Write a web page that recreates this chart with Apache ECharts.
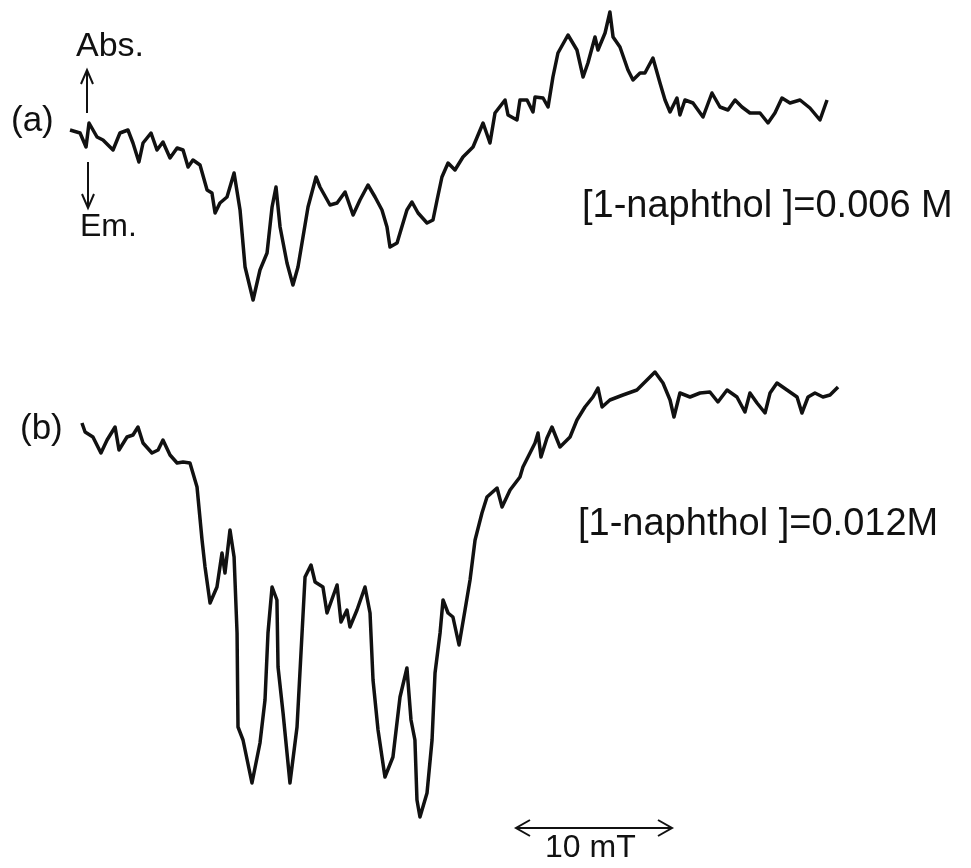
<!DOCTYPE html>
<html>
<head>
<meta charset="utf-8">
<script src="https://cdn.jsdelivr.net/npm/echarts@6/dist/echarts.min.js"></script>
<style>
  html, body { margin: 0; padding: 0; background: #fff; }
  #main { width: 971px; height: 868px; }
</style>
</head>
<body>
<div id="main"></div>
<script>
// magnetic field (mT, from start of sweep) and signal (arb. units, + = absorption)
const fieldA = [0.0, 0.64, 1.02, 1.21, 1.72, 2.10, 2.74, 3.18, 3.69, 4.01, 4.39, 4.65, 5.16, 5.54, 5.92, 6.37, 6.82, 7.20, 7.52, 7.83,
  8.28, 8.73, 9.04, 9.24, 9.55, 10.0, 10.45, 10.83, 11.15, 11.66, 12.10, 12.55, 12.87, 13.12, 13.38, 13.82, 14.20, 14.52, 15.16, 15.67,
  15.92, 16.56, 17.01, 17.52, 18.03, 18.47, 18.98, 19.43, 19.87, 20.19, 20.38, 20.83, 21.02, 21.46, 21.78, 22.17, 22.74, 23.12, 23.38, 23.69,
  24.08, 24.52, 25.03, 25.67, 26.31, 26.75, 27.07, 27.71, 27.90, 28.47, 28.66, 29.11, 29.49, 29.62, 30.13, 30.45, 30.76, 31.08, 31.72, 32.29,
  32.68, 32.99, 33.44, 33.63, 34.08, 34.39, 34.59, 35.03, 35.54, 35.86, 36.31, 36.62, 37.13, 37.58, 37.90, 38.22, 38.66, 38.85, 39.17, 39.68,
  40.32, 40.89, 41.40, 41.91, 42.36, 42.80, 43.31, 43.95, 44.46, 44.90, 45.35, 45.86, 46.50, 47.13, 47.77, 48.22];
const signalA = [0.0, -0.3, -1.7, 0.7, -0.7, -1.0, -2.0, -0.3, 0.0, -1.3, -3.2, -1.3, -0.3, -2.0, -1.2, -2.8, -1.8, -2.0, -3.7, -3.0,
  -3.5, -6.0, -6.3, -8.3, -7.3, -6.7, -4.3, -8.0, -13.7, -17.0, -14.0, -12.3, -7.7, -5.7, -9.7, -13.3, -15.5, -13.7, -7.7, -4.7,
  -5.7, -7.5, -7.3, -6.2, -8.5, -7.0, -5.5, -6.7, -8.0, -9.7, -11.7, -11.3, -10.3, -8.0, -7.2, -8.3, -9.3, -9.0, -7.0, -4.7,
  -3.3, -4.0, -2.7, -1.7, 0.7, -1.3, 1.7, 3.0, 1.5, 1.0, 3.0, 3.0, 1.8, 3.3, 3.2, 2.3, 5.3, 7.7, 9.5, 8.0,
  5.3, 6.7, 9.3, 8.0, 9.7, 11.8, 9.3, 8.3, 6.0, 5.0, 5.7, 5.7, 7.2, 4.7, 3.0, 1.8, 3.2, 1.5, 3.0, 2.7,
  1.3, 3.7, 2.3, 2.0, 3.0, 2.3, 1.7, 1.7, 0.7, 1.7, 3.2, 2.7, 3.0, 2.2, 1.0, 3.0];

const fieldB = [0.76, 0.96, 1.46, 1.97, 2.36, 2.87, 3.12, 3.63, 4.01, 4.33, 4.65, 5.22, 5.61, 5.92, 6.37, 6.82, 7.20, 7.64, 8.09, 8.41,
  8.60, 8.92, 9.36, 9.68, 9.87, 10.19, 10.45, 10.64, 10.70, 11.02, 11.59, 12.10, 12.42, 12.61, 12.87, 13.18, 13.25, 13.57, 14.01, 14.46,
  14.78, 14.97, 15.35, 15.61, 16.11, 16.37, 17.01, 17.26, 17.64, 17.83, 18.28, 18.79, 19.11, 19.30, 19.62, 20.06, 20.57, 21.02, 21.46, 21.72,
  21.97, 22.10, 22.29, 22.74, 23.06, 23.25, 23.57, 23.76, 24.08, 24.39, 24.78, 25.16, 25.48, 25.80, 26.24, 26.56, 27.20, 27.52, 28.03, 28.66,
  28.85, 29.62, 29.81, 30.00, 30.38, 30.70, 31.21, 31.85, 32.29, 32.80, 33.31, 33.63, 33.89, 34.39, 35.22, 36.11, 36.75, 37.26, 37.77, 38.22,
  38.47, 38.85, 39.49, 40.13, 40.76, 41.27, 41.85, 42.48, 42.99, 43.31, 43.76, 44.27, 44.59, 45.03, 45.67, 46.31, 46.62, 47.01, 47.45, 47.96,
  48.41, 48.92];
const signalB = [0.7, -0.2, -0.7, -2.3, -1.0, 0.3, -2.0, -0.7, -0.5, 0.3, -1.3, -2.3, -2.0, -1.0, -2.5, -3.3, -3.2, -3.3, -5.7, -11.0,
  -13.7, -17.3, -15.7, -12.3, -14.3, -10.0, -12.7, -20.3, -29.7, -31.0, -35.3, -31.3, -27.0, -20.3, -15.7, -17.0, -23.7, -28.3, -35.3, -29.7,
  -20.3, -14.7, -13.5, -15.2, -15.7, -18.3, -15.5, -19.2, -18.0, -19.7, -18.0, -15.7, -18.3, -25.0, -30.0, -34.7, -32.7, -26.7, -23.8, -29.0,
  -31.0, -37.0, -38.7, -36.3, -31.0, -24.3, -20.3, -17.0, -18.3, -18.7, -21.5, -18.0, -15.0, -11.0, -8.3, -6.7, -5.8, -7.7, -6.0, -4.7,
  -3.7, -1.3, -0.3, -2.7, -0.8, 0.3, -1.7, -0.7, 1.0, 2.3, 3.3, 4.2, 2.3, 3.0, 3.5, 4.0, 5.0, 5.8, 4.7, 3.0,
  1.3, 3.7, 3.3, 3.7, 3.8, 2.8, 4.0, 3.3, 1.8, 3.7, 2.7, 1.7, 3.7, 4.7, 4.0, 3.3, 1.7, 3.3, 3.7, 3.3,
  3.5, 4.3];

const labelA = '[1-naphthol ]=0.006 M';
const labelB = '[1-naphthol ]=0.012M';
const scaleText = '10 mT';

const pairs = (xs, ys) => xs.map((x, i) => [x, ys[i]]);

const myChart = echarts.init(document.getElementById('main'));

const font = '"Liberation Sans", Arial, sans-serif';
const black = '#111';
const axisOff = { show: false };

const arrowStyle = { stroke: black, lineWidth: 2, fill: null };

const option = {
  backgroundColor: '#fff',
  animation: false,
  grid: [
    { left: 0, top: 0, width: 971, height: 400 },
    { left: 0, top: 300, width: 971, height: 568 }
  ],
  xAxis: [
    { type: 'value', gridIndex: 0, min: -4.46, max: 57.39, show: false, splitLine: axisOff },
    { type: 'value', gridIndex: 1, min: -4.46, max: 57.39, show: false, splitLine: axisOff }
  ],
  yAxis: [
    { type: 'value', gridIndex: 0, min: -27, max: 13, show: false, splitLine: axisOff },
    { type: 'value', gridIndex: 1, min: -43.8, max: 13, show: false, splitLine: axisOff }
  ],
  series: [
    {
      type: 'line', xAxisIndex: 0, yAxisIndex: 0,
      data: pairs(fieldA, signalA),
      showSymbol: false,
      lineStyle: { color: black, width: 3.5, join: 'round' }
    },
    {
      type: 'line', xAxisIndex: 1, yAxisIndex: 1,
      data: pairs(fieldB, signalB),
      showSymbol: false,
      lineStyle: { color: black, width: 3.5, join: 'round' }
    }
  ],
  graphic: [
    { type: 'text', left: 76, top: 30, style: { text: 'Abs.', font: '34px ' + font, fill: black } },
    { type: 'text', left: 80, top: 211, style: { text: 'Em.', font: '32px ' + font, fill: black } },
    { type: 'text', left: 11, top: 104, style: { text: '(a)', font: '35px ' + font, fill: black } },
    { type: 'text', left: 20, top: 412, style: { text: '(b)', font: '35px ' + font, fill: black } },
    { type: 'text', left: 582, top: 188, style: { text: labelA, font: '38px ' + font, fill: black } },
    { type: 'text', left: 578, top: 506, style: { text: labelB, font: '38px ' + font, fill: black } },
    { type: 'text', left: 545, top: 832, style: { text: scaleText, font: '32px ' + font, fill: black } },
    // Abs. arrow (up)
    { type: 'polyline', shape: { points: [[87, 113], [87, 70]] }, style: arrowStyle },
    { type: 'polyline', shape: { points: [[81, 84], [87, 70], [93, 84]] }, style: arrowStyle },
    // Em. arrow (down)
    { type: 'polyline', shape: { points: [[88, 162], [88, 208]] }, style: arrowStyle },
    { type: 'polyline', shape: { points: [[82, 194], [88, 208], [94, 194]] }, style: arrowStyle },
    // 10 mT scale bar
    { type: 'polyline', shape: { points: [[516, 828], [672, 828]] }, style: arrowStyle },
    { type: 'polyline', shape: { points: [[530, 820], [516, 828], [530, 836]] }, style: arrowStyle },
    { type: 'polyline', shape: { points: [[658, 820], [672, 828], [658, 836]] }, style: arrowStyle }
  ]
};

myChart.setOption(option);
</script>
</body>
</html>
